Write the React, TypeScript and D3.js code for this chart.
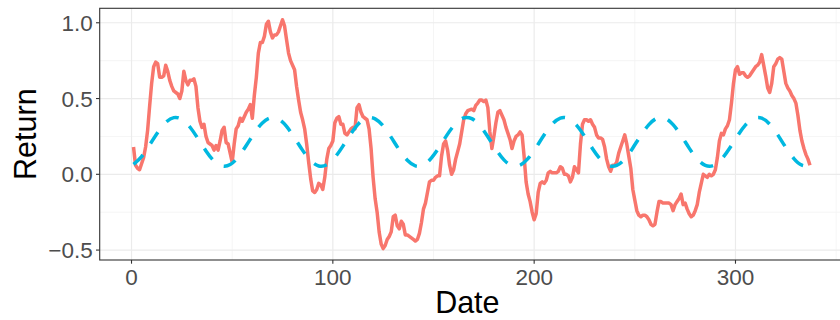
import React from "react";
import * as d3 from "d3";

// Observed returns, one value per day (days 1..337)
const returns: number[] = [
  0.18, 0.06, 0.04, 0.03, 0.07, 0.11, 0.18, 0.29, 0.45, 0.6,
  0.71, 0.74, 0.73, 0.64, 0.64, 0.65, 0.72, 0.68, 0.62, 0.58,
  0.55, 0.54, 0.53, 0.5, 0.55, 0.68, 0.62, 0.59, 0.62, 0.62,
  0.63, 0.58, 0.44, 0.35, 0.31, 0.33, 0.25, 0.21, 0.2, 0.19,
  0.16, 0.19, 0.16, 0.22, 0.29, 0.31, 0.21, 0.2, 0.14, 0.08,
  0.2, 0.3, 0.32, 0.37, 0.35, 0.38, 0.41, 0.43, 0.46, 0.37,
  0.52, 0.64, 0.8, 0.87, 0.87, 0.91, 0.99, 1.01, 0.94, 0.9,
  0.92, 0.92, 0.94, 0.98, 1.02, 0.98, 0.89, 0.8, 0.75, 0.72,
  0.69, 0.58, 0.49, 0.41, 0.36, 0.3, 0.2, 0.08, -0.03, -0.11,
  -0.12, -0.1, -0.06, -0.07, -0.1, -0.02, 0.1, 0.17, 0.19, 0.22,
  0.34, 0.37, 0.38, 0.33, 0.33, 0.27, 0.26, 0.28, 0.3, 0.31,
  0.3, 0.44, 0.46, 0.41, 0.38, 0.37, 0.36, 0.3, 0.17, -0.02,
  -0.16, -0.25, -0.38, -0.46, -0.49, -0.47, -0.43, -0.41, -0.38, -0.28,
  -0.27, -0.34, -0.36, -0.31, -0.33, -0.4, -0.4, -0.41, -0.42, -0.43,
  -0.44, -0.43, -0.39, -0.32, -0.23, -0.19, -0.12, -0.05, -0.04, -0.04,
  -0.02, -0.01, -0.01, 0.12, 0.2, 0.22, 0.16, 0.06, 0.0, 0.03,
  0.1, 0.15, 0.2, 0.28, 0.36, 0.4, 0.42, 0.425, 0.43, 0.42,
  0.455, 0.47, 0.49, 0.49, 0.48, 0.49, 0.44, 0.28, 0.17, 0.25,
  0.34, 0.41, 0.42, 0.39, 0.36, 0.31, 0.27, 0.23, 0.17, 0.22,
  0.25, 0.26, 0.28, 0.26, 0.12, -0.05, -0.13, -0.18, -0.25, -0.3,
  -0.26, -0.12, -0.06, -0.05, -0.06, -0.04, 0.01, 0.02, 0.01, 0.01,
  0.01, 0.02, 0.05, 0.04, 0.0, 0.0, -0.01, -0.05, -0.02, 0.05,
  0.03, 0.01, 0.2, 0.33, 0.36, 0.36, 0.35, 0.36, 0.33, 0.31,
  0.26, 0.24, 0.24, 0.23, 0.18, 0.1, 0.05, 0.02, 0.06, 0.06,
  0.08, 0.14, 0.18, 0.22, 0.26, 0.2, 0.12, 0.04, -0.1, -0.17,
  -0.24, -0.27, -0.28, -0.27, -0.27, -0.28, -0.3, -0.33, -0.34, -0.33,
  -0.25, -0.18, -0.18, -0.19, -0.19, -0.19, -0.19, -0.2, -0.24, -0.2,
  -0.18, -0.16, -0.13, -0.2, -0.19, -0.23, -0.26, -0.28, -0.27, -0.24,
  -0.2, -0.12, -0.06, 0.0, -0.01, -0.02, 0.0, -0.01, 0.0, 0.03,
  0.11, 0.22, 0.27, 0.26, 0.3, 0.32, 0.36, 0.47, 0.6, 0.69,
  0.71, 0.66, 0.67, 0.67, 0.65, 0.64, 0.65, 0.67, 0.69, 0.71,
  0.72, 0.74, 0.79, 0.72, 0.65, 0.57, 0.54, 0.6, 0.71, 0.73,
  0.76, 0.77, 0.76, 0.68, 0.6, 0.57, 0.55, 0.52, 0.5, 0.47,
  0.39, 0.29, 0.22, 0.17, 0.13, 0.1, 0.06,
];

// Seasonal component, sampled every 4 days (days 1, 5, ..., 337)
const seasonalDays: number[] = d3.range(1, 338, 4);
const seasonal: number[] = [
  0.066, 0.117, 0.194, 0.276, 0.342, 0.374, 0.363, 0.312, 0.236, 0.154,
  0.087, 0.055, 0.064, 0.114, 0.19, 0.272, 0.339, 0.373, 0.364, 0.316,
  0.24, 0.158, 0.09, 0.055, 0.063, 0.111, 0.186, 0.268, 0.337, 0.372,
  0.366, 0.319, 0.244, 0.161, 0.093, 0.056, 0.062, 0.108, 0.182, 0.265,
  0.334, 0.372, 0.367, 0.322, 0.248, 0.165, 0.095, 0.057, 0.06, 0.105,
  0.178, 0.261, 0.331, 0.371, 0.368, 0.325, 0.252, 0.169, 0.098, 0.058,
  0.059, 0.101, 0.174, 0.257, 0.328, 0.37, 0.37, 0.328, 0.256, 0.173,
  0.101, 0.059, 0.058, 0.099, 0.17, 0.253, 0.326, 0.368, 0.371, 0.331,
  0.26, 0.177, 0.104, 0.06, 0.057,
];

const xTicks: number[] = [0, 100, 200, 300];
const xTickLabels: string[] = ["0", "100", "200", "300"];
const xMinor: number[] = [50, 150, 250, 350];
const yTicks: number[] = [-0.5, 0, 0.5, 1.0];
const yTickLabels: string[] = ["\u22120.5", "0.0", "0.5", "1.0"];
const yMinor: number[] = [-0.25, 0.25, 0.75];

const W = 840;
const H = 320;
const panel = { left: 99.7, right: 843.8, top: 8.3, bottom: 260 };

function expand(lo: number, hi: number, mult = 0.05): [number, number] {
  const pad = (hi - lo) * mult;
  return [lo - pad, hi + pad];
}

export default function App() {
  const days = returns.map((_, i) => i + 1);
  const x = d3
    .scaleLinear()
    .domain(expand(d3.min(days)!, d3.max(days)!))
    .range([panel.left, panel.right]);
  const allY = [...returns, ...seasonal];
  const y = d3
    .scaleLinear()
    .domain(expand(d3.min(allY)!, d3.max(allY)!))
    .range([panel.bottom, panel.top]);

  const returnLine = d3
    .line<number>()
    .x((_, i) => x(days[i]))
    .y((d) => y(d));
  const seasonalLine = d3
    .line<number>()
    .x((_, i) => x(seasonalDays[i]))
    .y((d) => y(d))
    .curve(d3.curveNatural);

  const font = "'Liberation Sans', Arial, Helvetica, sans-serif";
  const gridMajor = "#EBEBEB";
  const gridMinor = "#F2F2F2";

  return (
    <svg
      width={W}
      height={H}
      style={{ position: "absolute", left: 0, top: 0, background: "#fff" }}
      fontFamily={font}
    >
      <defs>
        <clipPath id="panel-clip">
          <rect
            x={panel.left}
            y={panel.top}
            width={panel.right - panel.left}
            height={panel.bottom - panel.top}
          />
        </clipPath>
      </defs>
      <rect x={0} y={0} width={W} height={H} fill="#fff" />

      {/* grid */}
      <g>
        {yMinor.map((v) => (
          <line key={`ym${v}`} x1={panel.left} x2={panel.right} y1={y(v)} y2={y(v)} stroke={gridMinor} strokeWidth={0.8} />
        ))}
        {xMinor.map((v) => (
          <line key={`xm${v}`} x1={x(v)} x2={x(v)} y1={panel.top} y2={panel.bottom} stroke={gridMinor} strokeWidth={0.8} />
        ))}
        {yTicks.map((v) => (
          <line key={`yM${v}`} x1={panel.left} x2={panel.right} y1={y(v)} y2={y(v)} stroke={gridMajor} strokeWidth={1.2} />
        ))}
        {xTicks.map((v) => (
          <line key={`xM${v}`} x1={x(v)} x2={x(v)} y1={panel.top} y2={panel.bottom} stroke={gridMajor} strokeWidth={1.2} />
        ))}
      </g>

      {/* series */}
      <g clipPath="url(#panel-clip)">
        <path
          d={returnLine(returns) ?? ""}
          fill="none"
          stroke="#F8766D"
          strokeWidth={3.5}
          strokeLinejoin="round"
        />
        <path
          d={seasonalLine(seasonal) ?? ""}
          fill="none"
          stroke="#00B8E0"
          strokeWidth={3.5}
          strokeDasharray="13.5 13.5"
        />
      </g>

      {/* panel border */}
      <rect
        x={panel.left}
        y={panel.top}
        width={panel.right - panel.left}
        height={panel.bottom - panel.top}
        fill="none"
        stroke="#333333"
        strokeWidth={1.1}
      />

      {/* axes */}
      <g>
        {yTicks.map((v, i) => (
          <g key={`yt${v}`}>
            <line x1={panel.left - 3.7} x2={panel.left} y1={y(v)} y2={y(v)} stroke="#333333" strokeWidth={1.1} />
            <text
              x={panel.left - 7}
              y={y(v)}
              dy="0.36em"
              textAnchor="end"
              fontSize={22.5}
              fill="#4D4D4D"
            >
              {yTickLabels[i]}
            </text>
          </g>
        ))}
        {xTicks.map((v, i) => (
          <g key={`xt${v}`}>
            <line x1={x(v)} x2={x(v)} y1={panel.bottom} y2={panel.bottom + 3.7} stroke="#333333" strokeWidth={1.1} />
            <text x={x(v)} y={284.5} textAnchor="middle" fontSize={22.5} fill="#4D4D4D">
              {xTickLabels[i]}
            </text>
          </g>
        ))}
      </g>

      <text x={(panel.left + 835) / 2} y={312.5} textAnchor="middle" fontSize={30.5} fill="#000">
        Date
      </text>
      <text
        transform={`translate(35.5, ${(panel.top + panel.bottom) / 2}) rotate(-90)`}
        textAnchor="middle"
        fontSize={30.5}
        fill="#000"
      >
        Return
      </text>
    </svg>
  );
}
